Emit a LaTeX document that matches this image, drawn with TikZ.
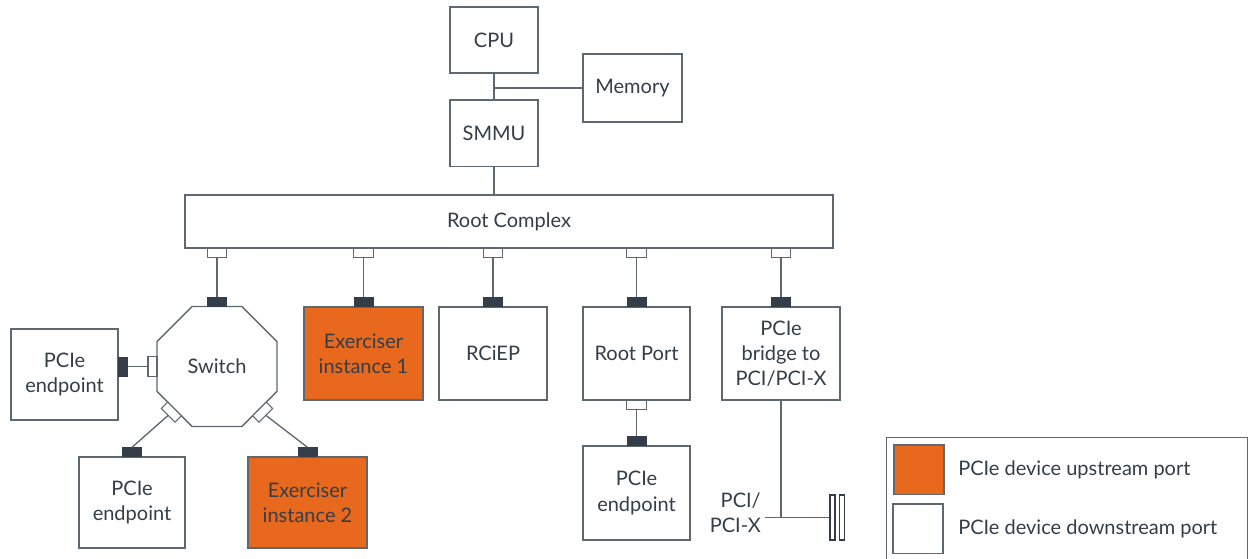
\documentclass[tikz,border=0pt]{standalone}
\usepackage{fontspec}
\setmainfont{Lato}
\usetikzlibrary{shapes.geometric}
\definecolor{armdark}{HTML}{333E48}
\definecolor{armline}{HTML}{5E6870}
\definecolor{armorange}{HTML}{E8691D}
\tikzset{
  lbl/.style={text=armdark, font=\fontsize{15}{18.8}\selectfont},
  box/.style={lbl, draw=armline, line width=1pt, fill=white, align=center, inner sep=2pt},
  dev/.style={box, minimum height=69.75pt},
  upport/.style={draw=armdark, fill=armdark, minimum width=14.5pt, minimum height=6.75pt, inner sep=0pt, outer sep=0pt},
  downport/.style={draw=armline, fill=white, line width=0.8pt, minimum width=14.5pt, minimum height=6.75pt, inner sep=0pt, outer sep=0pt},
  busbar/.style={draw=armdark, fill=white, line width=0.8pt, minimum width=3.75pt, minimum height=33.75pt, inner sep=0pt},
  link/.style={draw=armline, line width=1pt}
}
\begin{document}
\begin{tikzpicture}[x=0.75pt,y=-0.75pt]
\useasboundingbox (0,0) rectangle (1249,559);
% host side
\node[box, minimum width=66pt, minimum height=49.5pt] (cpu) at (494,40) {CPU};
\node[box, minimum width=74.25pt, minimum height=51pt] (mem) at (632.5,88) {Memory};
\node[box, minimum width=66pt, minimum height=50pt] (smmu) at (494,133.5) {SMMU};
\node[box, minimum width=486pt, minimum height=39.75pt] (rc) at (509,221.5) {Root Complex};
\draw[link] (cpu) -- (smmu);
\draw[link] (mem.west) -- (mem.west -| cpu.south);
\draw[link] (smmu) -- (smmu.south |- rc.north);
% devices
\node[box, regular polygon, regular polygon sides=8, minimum size=97.4pt,
      inner sep=0pt, outer sep=0pt] (sw) at (217,366.5) {Switch};
\node[dev, fill=armorange, minimum width=89.25pt] (ex1) at (363.5,353.5) {Exerciser\\instance 1};
\node[dev, minimum width=81pt] (rciep) at (493,353.5) {RCiEP};
\node[dev, minimum width=80.25pt] (rp) at (636.5,353.5) {Root Port};
\node[dev, minimum width=88.5pt] (br) at (781,353.5) {PCIe\\bridge to\\PCI/PCI-X};
\node[dev, minimum width=80.25pt, minimum height=68.25pt] (ep1) at (64.5,374.5) {PCIe\\endpoint};
\node[dev, minimum width=79.5pt, minimum height=68.25pt] (ep2) at (132,502.5) {PCIe\\endpoint};
\node[dev, fill=armorange, minimum width=89.25pt, minimum height=68.25pt] (ex2) at (307.5,502.5) {Exerciser\\instance 2};
\node[dev, minimum width=80.25pt, minimum height=70.5pt] (ep3) at (636.5,493) {PCIe\\endpoint};
% root complex ports
\foreach \d in {sw,ex1,rciep,rp,br} {
  \node[downport, anchor=north] (rc-\d) at (rc.south -| \d.north) {};
  \node[upport, anchor=south] (up-\d) at (\d.north) {};
  \draw[link] (rc-\d) -- (up-\d);
}
% switch ports
\node[downport, minimum width=6.75pt, minimum height=14.5pt, anchor=east] (sw-l) at (sw.west) {};
\node[upport, minimum width=6.75pt, minimum height=14.5pt, anchor=west] (up-ep1) at (ep1.east |- sw.west) {};
\draw[link] (sw-l) -- (up-ep1);
\node[downport, rotate=-45, anchor=north] (sw-bl) at (sw.225) {};
\node[downport, rotate=45, anchor=north] (sw-br) at (sw.315) {};
\node[upport, anchor=south] (up-ep2) at (ep2.north) {};
\node[upport, anchor=south] (up-ex2) at (ex2.north) {};
\draw[link] (sw-bl.south) -- (up-ep2.north);
\draw[link] (sw-br.south) -- (up-ex2.north);
% root port
\node[downport, anchor=north] (rp-d) at (rp.south) {};
\node[upport, anchor=south] (up-ep3) at (ep3.north) {};
\draw[link] (rp-d) -- (up-ep3);
% PCI bus
\node[busbar] (bar1) at (832.5,517.5) {};
\node[busbar] (bar2) at (842,517.5) {};
\coordinate (tap) at (br.south |- bar1.west);
\coordinate (busend) at (765,517.5);
\draw[link] (br.south) -- (tap);
\draw[link] (busend) -- (bar1.west);
\node[lbl, align=right, anchor=east, inner sep=0pt] (pci) at (761,512.5) {PCI/\\PCI-X};
% legend
\node[draw=armline, line width=1pt, minimum width=270.75pt, minimum height=105pt,
      anchor=north west, inner sep=0pt] (legend) at (886,437) {};
\node[box, fill=armorange, minimum width=37.5pt, minimum height=37pt] (key-up) at (919,469.5) {};
\node[box, minimum width=37.5pt, minimum height=37pt] (key-down) at (918,528.5) {};
\node[lbl, anchor=west, inner sep=0pt] (key-up-txt) at (958,470) {PCIe device upstream port};
\node[lbl, anchor=west, inner sep=0pt] (key-down-txt) at (958,529) {PCIe device downstream port};
\end{tikzpicture}
\end{document}
